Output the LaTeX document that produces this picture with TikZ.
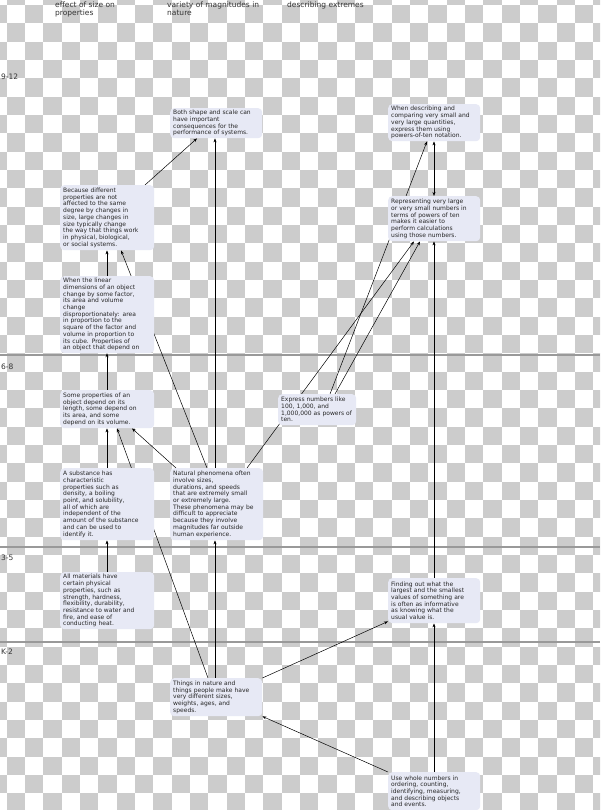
\documentclass[tikz,border=0pt]{standalone}
\usepackage{fontspec}
\setmainfont{DejaVu Sans}
\usetikzlibrary{arrows.meta,calc}
\definecolor{boxfill}{HTML}{E7E9F5}
\definecolor{checkgrey}{HTML}{CCCCCC}
\definecolor{bandline}{HTML}{999999}
\pgfdeclarelayer{back}
\pgfdeclarelayer{links}
\pgfsetlayers{back,links,main}
\begin{document}
\begin{tikzpicture}[x=1pt,y=-1pt,
  concept/.style={anchor=north west, fill=boxfill, rounded corners=4pt,
    inner xsep=3pt, inner ysep=2pt, align=left,
    font=\fontsize{6}{6.7}\selectfont, text=black!85},
  header/.style={anchor=north west, inner sep=0pt, align=left,
    font=\fontsize{7.5}{7.6}\selectfont, text=black!80},
  grade/.style={anchor=west, inner sep=0pt, font=\fontsize{7.5}{7.6}\selectfont, text=black!80},
  link/.style={draw=black, line width=0.5pt, -{Stealth[length=4pt,width=3pt]}},
  dlink/.style={draw=black, line width=0.5pt, {Stealth[length=4pt,width=3pt]}-{Stealth[length=4pt,width=3pt]}},
  band/.style={draw=bandline, line width=2.5pt},
]
\useasboundingbox (0,0) rectangle (600,810);

% ---------- background checkerboard and grade bands ----------
\begin{pgfonlayer}{back}
  \fill[white] (0,0) rectangle (600,810);
  \begin{scope}
    \clip (0,0) rectangle (600,810);
    \foreach \i in {0,...,33}{
      \foreach \k in {0,...,23}{
        \pgfmathsetmacro\jj{2*\k+mod(\i+1,2)}
        \fill[checkgrey] ({-11.63+18.33*\i},{-13.33+18.33*\jj}) rectangle ++(18.33,18.33);
      }
    }
  \end{scope}
  \coordinate (b1l) at (0,355);   \coordinate (b1r) at (600,355);
  \coordinate (b2l) at (0,547);   \coordinate (b2r) at (600,547);
  \coordinate (b3l) at (0,642);   \coordinate (b3r) at (600,642);
  \draw[band] (b1l) -- (b1r);
  \draw[band] (b2l) -- (b2r);
  \draw[band] (b3l) -- (b3r);
\end{pgfonlayer}

% ---------- headers and grade labels ----------
\node[header] (h1) at (55,2) {effect of size on\\properties};
\node[header] (h2) at (167,2) {variety of magnitudes in\\nature};
\node[header] (h3) at (287,2) {describing extremes};
\node[grade] (g1) at (1,77) {9-12};
\node[grade] (g2) at (1,367) {6-8};
\node[grade] (g3) at (1,558) {3-5};
\node[grade] (g4) at (1,652) {K-2};

% ---------- concept boxes ----------
\node[concept, text width=86pt, minimum height=30pt] (shape) at (170,108)
  {Both shape and scale can\\have important\\consequences for the\\performance of systems.};
\node[concept, text width=86pt, minimum height=37pt] (desc) at (388,104)
  {When describing and\\comparing very small and\\very large quantities,\\express them using\\powers-of-ten notation.};
\node[concept, text width=88pt, minimum height=65pt] (because) at (60,185)
  {Because different\\properties are not\\affected to the same\\degree by changes in\\size, large changes in\\size typically change\\the way that things work\\in physical, biological,\\or social systems.};
\node[concept, text width=86pt, minimum height=45pt] (repr) at (388,196)
  {Representing very large\\or very small numbers in\\terms of powers of ten\\makes it easier to\\perform calculations\\using those numbers.};
\node[concept, text width=88pt, minimum height=76pt] (linear) at (60,276)
  {When the linear\\dimensions of an object\\change by some factor,\\its area and volume\\change\\disproportionately: area\\in proportion to the\\square of the factor and\\volume in proportion to\\its cube. Properties of\\an object that depend on};
\node[concept, text width=88pt, minimum height=38pt] (some) at (60,390)
  {Some properties of an\\object depend on its\\length, some depend on\\its area, and some\\depend on its volume.};
\node[concept, text width=72pt, minimum height=31pt] (express) at (278,394)
  {Express numbers like\\100, 1,000, and\\1,000,000 as powers of\\ten.};
\node[concept, text width=88pt, minimum height=72pt] (substance) at (60,468)
  {A substance has\\characteristic\\properties such as\\density, a boiling\\point, and solubility,\\all of which are\\independent of the\\amount of the substance\\and can be used to\\identify it.};
\node[concept, text width=87pt, minimum height=72pt] (natural) at (170,468)
  {Natural phenomena often\\involve sizes,\\durations, and speeds\\that are extremely small\\or extremely large.\\These phenomena may be\\difficult to appreciate\\because they involve\\magnitudes far outside\\human experience.};
\node[concept, text width=88pt, minimum height=57pt] (materials) at (60,572)
  {All materials have\\certain physical\\properties, such as\\strength, hardness,\\flexibility, durability,\\resistance to water and\\fire, and ease of\\conducting heat.};
\node[concept, text width=86pt, minimum height=45pt] (finding) at (388,578)
  {Finding out what the\\largest and the smallest\\values of something are\\is often as informative\\as knowing what the\\usual value is.};
\node[concept, text width=86pt, minimum height=38pt] (things) at (170,678)
  {Things in nature and\\things people make have\\very different sizes,\\weights, ages, and\\speeds.};
\node[concept, text width=86pt, minimum height=38pt] (whole) at (388,772)
  {Use whole numbers in\\ordering, counting,\\identifying, measuring,\\and describing objects\\and events.};

% ---------- connectors (drawn beneath the boxes) ----------
\begin{pgfonlayer}{links}
  \draw[link] ($(because.north west)+(85,0)$) -- ($(shape.south west)+(27,0)$);
  \draw[link] ($(natural.north west)+(45,0)$) -- ($(shape.south west)+(45,0)$);
  \draw[link] ($(linear.north west)+(47,0)$) -- ($(because.south west)+(47,0)$);
  \draw[link] ($(natural.north west)+(37,0)$) -- ($(because.south west)+(61,0)$);
  \draw[link] ($(some.north west)+(47,0)$) -- ($(linear.south west)+(47,0)$);
  \draw[link] ($(substance.north west)+(47,0)$) -- ($(some.south west)+(47,0)$);
  \draw[link] ($(things.north west)+(38,0)$) -- ($(some.south west)+(57,0)$);
  \draw[link] ($(natural.north west)+(6,0)$) -- ($(some.south west)+(72,0)$);
  \draw[link] ($(materials.north west)+(47,0)$) -- ($(substance.south west)+(47,0)$);
  \draw[link] ($(things.north west)+(45,0)$) -- ($(natural.south west)+(45,0)$);
  \draw[link] ($(natural.north west)+(77,0)$) -- ($(repr.south west)+(26,0)$);
  \draw[link] ($(express.north west)+(57,0)$) -- ($(repr.south west)+(32,0)$);
  \draw[link] ($(express.north west)+(52,0)$) -- ($(desc.south west)+(39,0)$);
  \draw[dlink] ($(desc.south west)+(46,0)$) -- ($(repr.north west)+(46,0)$);
  \draw[link] ($(finding.north west)+(46,0)$) -- ($(repr.south west)+(46,0)$);
  \draw[link] ($(whole.north west)+(46,0)$) -- ($(finding.south west)+(46,0)$);
  \draw[link] (things.north east) -- ($(finding.south west)+(0,-2)$);
  \draw[link] (whole.north west) -- (things.south east);
\end{pgfonlayer}
\end{tikzpicture}
\end{document}
